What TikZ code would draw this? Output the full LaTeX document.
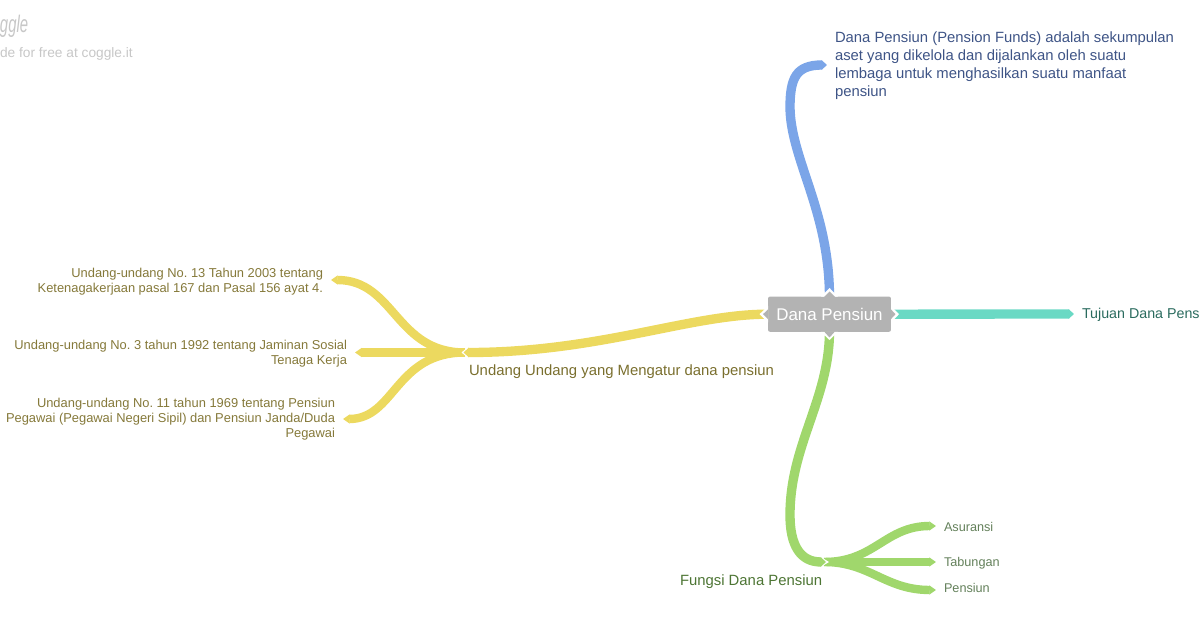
\documentclass[tikz,border=0pt]{standalone}
\usepackage{fontspec}
\setmainfont{Liberation Sans}
\usetikzlibrary{arrows.meta}
\definecolor{cblue}{HTML}{7BA5E8}
\definecolor{cteal}{HTML}{6AD9C4}
\definecolor{cyel}{HTML}{ECD95F}
\definecolor{cgrn}{HTML}{A0D76C}
\definecolor{tblue}{HTML}{3E5486}
\definecolor{tteal}{HTML}{2A6B5E}
\definecolor{tyel}{HTML}{7A6F2E}
\definecolor{tyel2}{HTML}{85793A}
\definecolor{tgrn}{HTML}{4D7534}
\definecolor{tgrn2}{HTML}{63805A}
\definecolor{cbox}{HTML}{B3B3B3}
\tikzset{
 x=0.75pt,y=-0.75pt,
 every node/.style={inner sep=0pt,outer sep=0pt},
 branch/.style={line width=7pt,line cap=butt,-{Triangle[length=4pt,width=7pt]}},
 twig/.style={line width=6.3pt,line cap=butt,-{Triangle[length=5pt,width=6.6pt]}},
 lab/.style={align=left,font=\fontsize{11.13pt}{13.5pt}\selectfont},
 rlab/.style={align=right,font=\fontsize{9.67pt}{11.25pt}\selectfont},
 halo/.style={fill=white},
 notch/.style={fill=cbox},
}
\begin{document}
\frenchspacing
\begin{tikzpicture}
\useasboundingbox (0,0) rectangle (1200,630);
% watermark
\node[anchor=base west,text=black!22,xscale=0.62,transform shape,font=\fontsize{18pt}{18pt}\selectfont\itshape] (logo) at (0,33) {ggle};
\node[anchor=base west,text=black!22,font=\fontsize{10.3pt}{12pt}\selectfont] (made) at (0,58) {de for free at coggle.it};
% centre
\node[fill=cbox,rounded corners=1.5pt,minimum width=92.2pt,minimum height=26.4pt,text=white,font=\fontsize{12.7pt}{14pt}\selectfont] (root) at (829.5,314.2) {Dana Pensiun};
% coordinates
\coordinate (bT) at (827,65);
\coordinate (tT) at (1074,314);
\coordinate (yM) at (463.5,352.5);
\coordinate (yJ) at (465,352.5);
\coordinate (y1) at (331,280);
\coordinate (y2) at (355,352.5);
\coordinate (y3) at (343,419);
\coordinate (gM) at (826,562);
\coordinate (gJ) at (824,562);
\coordinate (g1) at (936,526);
\coordinate (g2) at (936,562);
\coordinate (g3) at (936,590);
% yellow children
\draw[twig,cyel] (yJ) .. controls (395,352.5) and (395,280) .. (y1);
\draw[twig,cyel] (yJ) -- (y2);
\draw[twig,cyel] (yJ) .. controls (395,352.5) and (395,419) .. (y3);
% green children
\draw[twig,cgrn] (gJ) .. controls (875,562) and (885,526) .. (g1);
\draw[twig,cgrn] (gJ) -- (g2);
\draw[twig,cgrn] (gJ) .. controls (870,562) and (885,590) .. (g3);
\fill[halo] (468,347) -- (461.5,352.5) -- (468,358) -- cycle;
\fill[halo] (820,556.5) -- (829,562) -- (820,567.5) -- cycle;
% branches
\draw[branch,cblue] (root.north) .. controls (829,210) and (791,160) .. (790,108) .. controls (790,78) and (796,65) .. (bT);
\draw[branch,cteal] (root.east) -- (tT);
\draw[branch,cyel] (root.west) .. controls (690,314) and (600,352.5) .. (yM);
\draw[branch,cgrn] (root.south) .. controls (829,400) and (790,445) .. (790,515) .. controls (790,545) and (800,562) .. (gM);
% notches
\fill[halo] (821,296.6) -- (829.5,288) -- (838,296.6) -- cycle;
\fill[halo] (821,331.8) -- (829.5,340) -- (838,331.8) -- cycle;
\fill[halo] (768,306) -- (759.5,314.2) -- (768,322.5) -- cycle;
\fill[halo] (891,306) -- (899,314.2) -- (891,322.5) -- cycle;
\fill[notch] (824,297) -- (829.5,291.5) -- (835,297) -- cycle;
\fill[notch] (824,331.4) -- (829.5,337.5) -- (835,331.4) -- cycle;
\fill[notch] (768.4,309) -- (763,314.2) -- (768.4,319.5) -- cycle;
\fill[notch] (890.6,309) -- (895.5,314.2) -- (890.6,319.5) -- cycle;
% labels
\node[lab,anchor=north west,text=tblue] (n1) at (835,31.5) {Dana Pensiun (Pension Funds) adalah sekumpulan\\aset yang dikelola dan dijalankan oleh suatu\\lembaga untuk menghasilkan suatu manfaat\\pensiun};
\node[anchor=base west,text=tteal,font=\fontsize{10.7pt}{13pt}\selectfont] (n2) at (1082,318.5) {Tujuan Dana Pens};
\node[anchor=base west,text=tyel,font=\fontsize{11.15pt}{13pt}\selectfont] (n3) at (469,375.5) {Undang Undang yang Mengatur dana pensiun};
\node[anchor=base west,text=tgrn,font=\fontsize{11.15pt}{13pt}\selectfont] (n4) at (680,585.5) {Fungsi Dana Pensiun};
\node[rlab,anchor=north east,text=tyel2] (a1) at (323,268) {Undang-undang No. 13 Tahun 2003 tentang\\Ketenagakerjaan pasal 167 dan Pasal 156 ayat 4.};
\node[rlab,anchor=north east,text=tyel2] (a2) at (347,340.5) {Undang-undang No. 3 tahun 1992 tentang Jaminan Sosial\\Tenaga Kerja};
\node[rlab,anchor=north east,text=tyel2] (a3) at (335,398) {Undang-undang No. 11 tahun 1969 tentang Pensiun\\Pegawai (Pegawai Negeri Sipil) dan Pensiun Janda/Duda\\Pegawai};
\node[anchor=base west,text=tgrn2,font=\fontsize{9.5pt}{11pt}\selectfont] (b1) at (944,531.7) {Asuransi};
\node[anchor=base west,text=tgrn2,font=\fontsize{9.5pt}{11pt}\selectfont] (b2) at (944,566.5) {Tabungan};
\node[anchor=base west,text=tgrn2,font=\fontsize{9.5pt}{11pt}\selectfont] (b3) at (944,592.7) {Pensiun};
\end{tikzpicture}
\end{document}
